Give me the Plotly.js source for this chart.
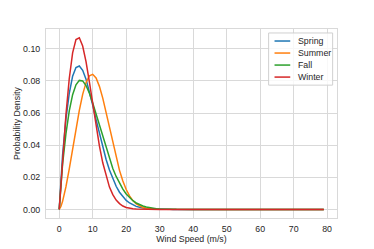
<!DOCTYPE html>
<html>
<head>
<meta charset="utf-8">
<script src="https://cdn.plot.ly/plotly-3.0.1.min.js"></script>
<style>html,body{margin:0;padding:0;background:#fff;}#chart{width:374px;height:249px;}</style>
</head>
<body>
<div id="chart"></div>
<script>
// Wind speed grid (m/s)
const windSpeed = [0,0.5,1,2,3,4,5,6,7,8,9,10,11,12,13,14,15,16,17,18,19,20,21,22,23,24,25,26,27,28,29,30,31,32,33,34,35,40,50,60,70,79];

// Probability density
const spring = [0,0.0197,0.0338,0.0562,0.0723,0.0829,0.0883,0.0893,0.0866,0.0811,0.0736,0.0650,0.0559,0.0470,0.0386,0.0311,0.0245,0.0189,0.0144,0.0107,0.0078,0.0056,0.0040,0.0028,0.0019,0.0013,0.0008,0.00055,0.00035,0.00022,0.00014,0.00008,0.00005,0.00003,0.00002,0.00001,0,0,0,0,0,0];
const summer = [0,0.0018,0.0050,0.0140,0.0252,0.0376,0.0501,0.0617,0.0716,0.0789,0.0831,0.0841,0.0818,0.0766,0.0693,0.0604,0.0508,0.0412,0.0322,0.0243,0.0177,0.0124,0.0084,0.0055,0.0034,0.0021,0.0012,0.00066,0.00035,0.00018,0.00009,0.00004,0.00002,0.00001,0,0,0,0,0,0,0,0];
const fall = [0,0.0163,0.0281,0.0470,0.0613,0.0714,0.0776,0.0803,0.0800,0.0771,0.0724,0.0662,0.0593,0.0520,0.0447,0.0377,0.0313,0.0255,0.0205,0.0162,0.0126,0.0096,0.0073,0.0054,0.0040,0.0029,0.0021,0.00145,0.00101,0.00069,0.00047,0.00032,0.00021,0.00013,0.00009,0.00006,0.00004,0,0,0,0,0];
const winter = [0,0.0156,0.0308,0.0587,0.0815,0.0974,0.1057,0.1068,0.1017,0.0920,0.0794,0.0655,0.0519,0.0395,0.0290,0.0205,0.0139,0.0092,0.0058,0.0036,0.0021,0.0012,0.00067,0.00036,0.00018,0.00009,0.00004,0.00002,0.00001,0,0,0,0,0,0,0,0,0,0,0,0,0];

const seasons = ["Spring","Summer","Fall","Winter"];
const seriesData = [spring, summer, fall, winter];
const colors = ["#1f77b4","#ff7f0e","#2ca02c","#d62728"];

const xTicks = [0,10,20,30,40,50,60,70,80];
const yTicks = [0,0.02,0.04,0.06,0.08,0.10];
const yTickText = ["0.00","0.02","0.04","0.06","0.08","0.10"];

const FONT = "Liberation Sans, Arial, Helvetica, sans-serif";
const TXT = "#262626";
const GRID = "#d9d9d9";

const traces = seasons.map((s, i) => ({
  type: "scatter", mode: "lines", name: s,
  x: windSpeed, y: seriesData[i],
  line: {color: colors[i], width: 1.5},
  showlegend: false, hoverinfo: "skip"
}));

// Custom compact legend (matplotlib-style)
const shapes = [];
const annotations = [];
const legX0 = 0.765, legX1 = 0.985, legY0 = 0.703, legY1 = 0.979;
shapes.push({type:"rect", xref:"paper", yref:"paper", x0:legX0, x1:legX1, y0:legY0, y1:legY1,
  line:{color:"#d0d0d0", width:1}, fillcolor:"rgba(255,255,255,0.8)", layer:"above"});
const entryY = [0.9364, 0.8728, 0.8092, 0.7456];
seasons.forEach((s, i) => {
  shapes.push({type:"line", xref:"paper", yref:"paper", x0:0.7853, x1:0.8393, y0:entryY[i], y1:entryY[i],
    line:{color:colors[i], width:1.5}, layer:"above"});
  annotations.push({xref:"paper", yref:"paper", x:0.858, y:entryY[i], xanchor:"left", yanchor:"middle",
    text:s, showarrow:false, font:{family:FONT, size:8.8, color:TXT}});
});

const layout = {
  width: 374, height: 249,
  margin: {l:46, r:37, t:29, b:31},
  paper_bgcolor: "#fff", plot_bgcolor: "#fff",
  font: {family: FONT, size: 8.8, color: TXT},
  showlegend: false,
  xaxis: {
    range: [-3.95, 82.95], tickvals: xTicks, ticktext: xTicks.map(String),
    showgrid: true, gridcolor: GRID, gridwidth: 1, zeroline: false,
    showline: true, mirror: true, linecolor: GRID, linewidth: 1,
    ticks: "", ticklabelstandoff: 2,
    title: {text: "Wind Speed (m/s)", font: {family: FONT, size: 8.8, color: TXT}, standoff: 3}
  },
  yaxis: {
    range: [-0.00535, 0.1123], tickvals: yTicks, ticktext: yTickText,
    showgrid: true, gridcolor: GRID, gridwidth: 1, zeroline: false,
    showline: true, mirror: true, linecolor: GRID, linewidth: 1,
    ticks: "", ticklabelstandoff: 3,
    title: {text: "Probability Density", font: {family: FONT, size: 8.8, color: TXT}, standoff: 1}
  },
  shapes: shapes,
  annotations: annotations
};

Plotly.newPlot("chart", traces, layout, {displayModeBar: false, staticPlot: true});
</script>
</body>
</html>
